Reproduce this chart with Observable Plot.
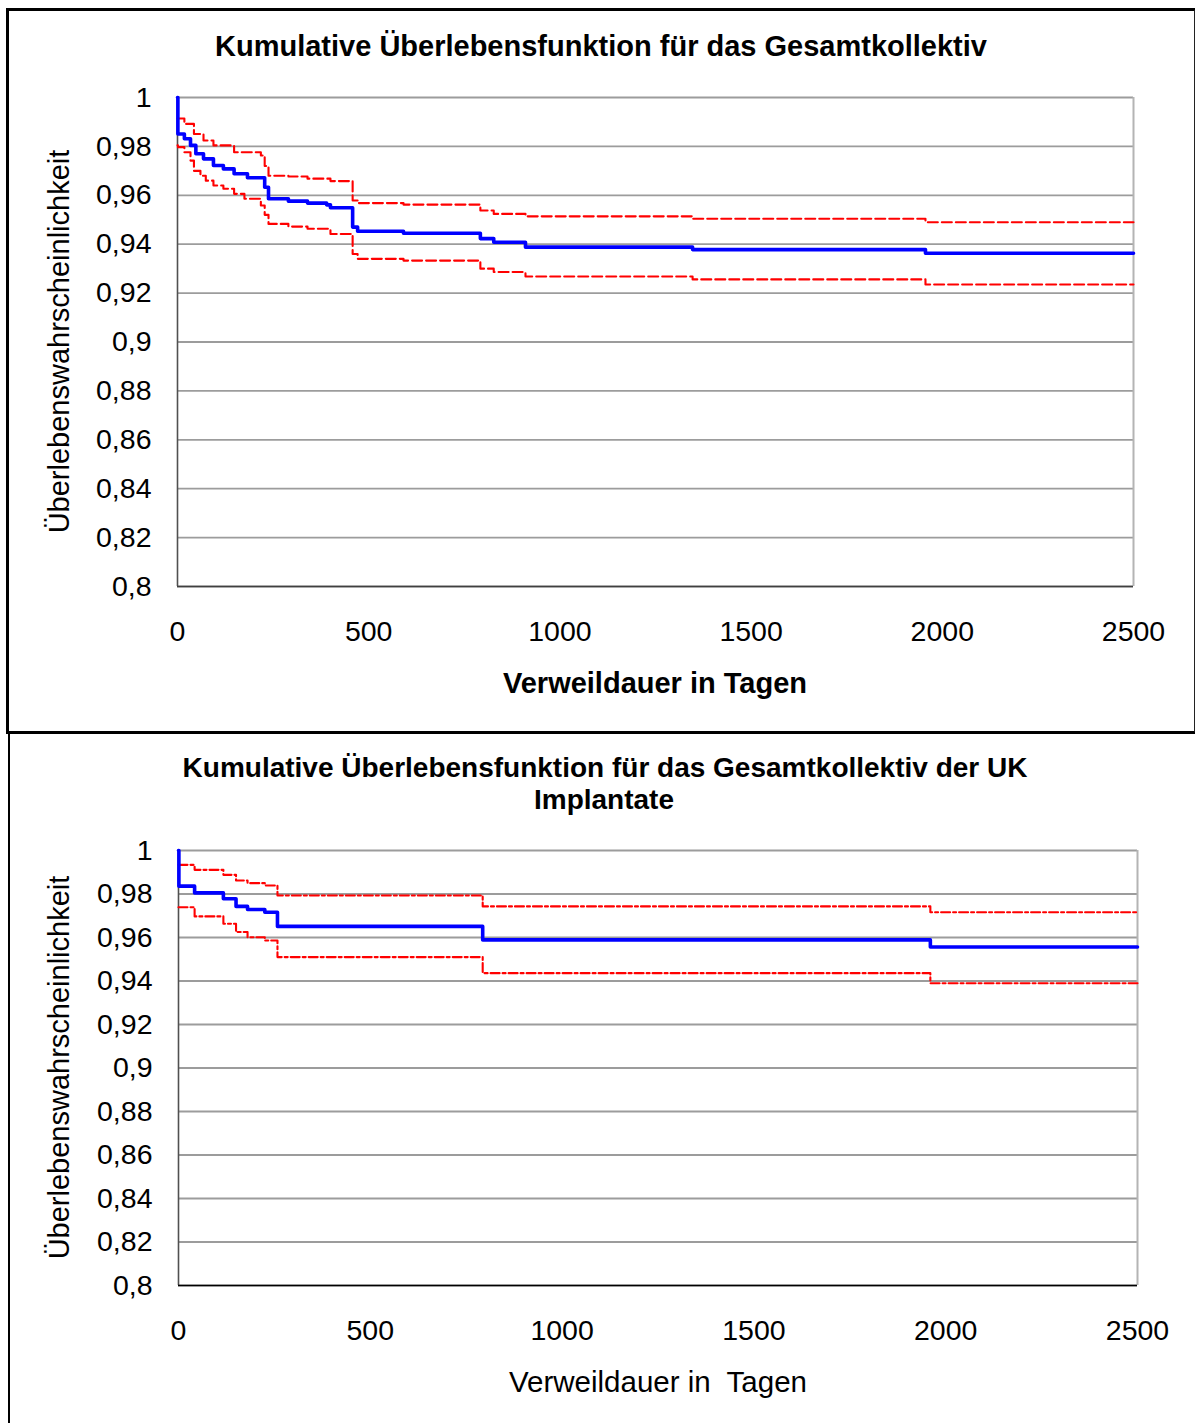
<!DOCTYPE html>
<html>
<head>
<meta charset="utf-8">
<script src="https://cdn.jsdelivr.net/npm/d3@7"></script>
<script src="https://cdn.jsdelivr.net/npm/@observablehq/plot@0.6"></script>
<style>
  html, body { margin: 0; padding: 0; background: #fff; }
  body { width: 1195px; height: 1423px; position: relative; overflow: hidden; font-family: "Liberation Sans", Arial, Helvetica, sans-serif; color: #000; }
  .abs { position: absolute; }
  .t { position: absolute; white-space: pre; text-align: center; }
</style>
</head>
<body>
<script>
// ---------- data ----------
const xTicks = [0, 500, 1000, 1500, 2000, 2500];
const yTicks = [0.8, 0.82, 0.84, 0.86, 0.88, 0.9, 0.92, 0.94, 0.96, 0.98, 1];

// Gesamtkollektiv
const topDays  = [0, 1, 18, 34, 43, 48, 60, 68, 74, 94, 120, 148, 175, 183, 218, 228, 238, 290, 340, 390, 400, 458, 471, 591, 792, 827, 910, 1347, 1956, 2500];
const topSurv  = [1.000, 0.9851, 0.9831, 0.9804, 0.9804, 0.9770, 0.9770, 0.9749, 0.9749, 0.9722, 0.9708, 0.9688, 0.9688, 0.9672, 0.9672, 0.9633, 0.9586, 0.9576, 0.9568, 0.9561, 0.9549, 0.9470, 0.9453, 0.9445, 0.9423, 0.9408, 0.9388, 0.9378, 0.9363, 0.9363];
const topUpper = [0.9914, 0.9914, 0.9892, 0.9892, 0.9851, 0.9851, 0.9851, 0.9824, 0.9824, 0.9804, 0.9804, 0.9776, 0.9776, 0.9776, 0.9763, 0.9720, 0.9680, 0.9677, 0.9668, 0.9668, 0.9658, 0.9579, 0.9568, 0.9562, 0.9538, 0.9524, 0.9514, 0.9504, 0.9490, 0.9490];
const topLower = [0.9805, 0.9797, 0.9776, 0.9742, 0.9700, 0.9700, 0.9680, 0.9680, 0.9660, 0.9640, 0.9627, 0.9606, 0.9586, 0.9586, 0.9558, 0.9520, 0.9483, 0.9472, 0.9463, 0.9463, 0.9442, 0.9360, 0.9340, 0.9333, 0.9300, 0.9286, 0.9268, 0.9256, 0.9235, 0.9235];

// UK Implantate
const ukDays  = [0, 1, 42, 117, 150, 180, 225, 258, 793, 1960, 2500];
const ukSurv  = [1.000, 0.9836, 0.9805, 0.9778, 0.9743, 0.9729, 0.9716, 0.9651, 0.9589, 0.9556, 0.9556];
const ukUpper = [0.9934, 0.9934, 0.9911, 0.9888, 0.9862, 0.9850, 0.9839, 0.9793, 0.9743, 0.9716, 0.9716];
const ukLower = [0.9739, 0.9739, 0.9697, 0.9663, 0.9625, 0.9601, 0.9586, 0.9510, 0.9436, 0.9390, 0.9390];

const topTitle = "Kumulative Überlebensfunktion für das Gesamtkollektiv";
const ukTitle1 = "Kumulative Überlebensfunktion für das Gesamtkollektiv der UK";
const ukTitle2 = "Implantate";
const yLabel = "Überlebenswahrscheinlichkeit";
const xLabelTop = "Verweildauer in Tagen";
const xLabelUk = "Verweildauer in  Tagen";

// ---------- drawing ----------
const FONT = '"Liberation Sans", Arial, Helvetica, sans-serif';
const fmt = d => String(+d.toFixed(2)).replace(".", ",");
const rows = (days, s, u, l) => days.map((d, i) => ({day: d, surv: s[i], upper: u[i], lower: l[i]}));

function chart(data, o) {
  return Plot.plot({
    width: 1195, height: o.height,
    marginTop: o.mt, marginBottom: o.mb, marginLeft: o.ml, marginRight: o.mr,
    x: {domain: [0, 2500]},
    y: {domain: [0.8, 1]},
    style: {fontFamily: FONT, fontSize: "28.5px", color: "#000", background: "transparent", overflow: "visible"},
    marks: [
      Plot.gridY(yTicks, {stroke: "#9c9c9c", strokeOpacity: 1, strokeWidth: 1.8}),
      Plot.ruleX([2500], {stroke: "#b4b4b4", strokeWidth: 2}),
      Plot.ruleX([0], {stroke: "#505050", strokeWidth: 1.6}),
      Plot.ruleY([0.8], {stroke: o.bottomColor, strokeWidth: 1.6}),
      Plot.line(data, {x: "day", y: "upper", curve: "step-after", stroke: "#ff0000", strokeWidth: 2.1, strokeDasharray: o.dash}),
      Plot.line(data, {x: "day", y: "lower", curve: "step-after", stroke: "#ff0000", strokeWidth: 2.1, strokeDasharray: o.dash}),
      Plot.line(data, {x: "day", y: "surv", curve: "step-after", stroke: "#0000ff", strokeWidth: 3.6}),
      Plot.axisY(yTicks, {tickSize: 0, tickPadding: o.ypad, tickFormat: fmt, fontSize: 28.5, label: null}),
      Plot.axisX(xTicks, {tickSize: 0, tickPadding: 34, tickFormat: d => String(d), fontSize: 28.5, label: null})
    ]
  });
}

function place(el, left, top) {
  const w = document.createElement("div");
  w.className = "abs";
  w.style.left = left + "px";
  w.style.top = top + "px";
  w.appendChild(el);
  document.body.appendChild(w);
}

function text(str, cx, baseline, size, bold) {
  const d = document.createElement("div");
  d.className = "t";
  d.textContent = str;
  d.style.fontSize = size + "px";
  d.style.lineHeight = size + "px";
  d.style.fontWeight = bold ? "bold" : "normal";
  d.style.width = "1000px";
  d.style.left = (cx - 500) + "px";
  d.style.top = (baseline - 0.8465 * size) + "px";
  document.body.appendChild(d);
}

function vtext(str, cx, cy, size) {
  const d = document.createElement("div");
  d.className = "t";
  d.textContent = str;
  d.style.fontSize = size + "px";
  d.style.lineHeight = size + "px";
  d.style.width = "600px";
  d.style.height = size + "px";
  d.style.left = (cx - 300) + "px";
  d.style.top = (cy - size / 2) + "px";
  d.style.transform = "rotate(-90deg)";
  document.body.appendChild(d);
}

function box(left, top, w, h, css) {
  const d = document.createElement("div");
  d.className = "abs";
  d.style.left = left + "px"; d.style.top = top + "px";
  d.style.width = w + "px"; d.style.height = h + "px";
  d.style.boxSizing = "border-box";
  Object.assign(d.style, css);
  document.body.appendChild(d);
}

// top chart: plot area x 177..1133, y 97..586
place(chart(rows(topDays, topSurv, topUpper, topLower),
  {height: 732, mt: 97, mb: 146, ml: 177, mr: 62, ypad: 26, dash: "10,4", bottomColor: "#404040"}), 0, 0);
// bottom chart: plot area x 178..1137, y 850..1285
place(chart(rows(ukDays, ukSurv, ukUpper, ukLower),
  {height: 692, mt: 119, mb: 138, ml: 178, mr: 58, ypad: 26, dash: "9,3,3,3", bottomColor: "#000"}), 0, 731);

// titles and axis titles
text(topTitle, 601, 57, 29, true);
text(xLabelTop, 655, 694, 29, true);
vtext(yLabel, 59, 341, 29);

text(ukTitle1, 605, 778, 28, true);
text(ukTitle2, 604, 810, 28, true);
text(xLabelUk, 658, 1392, 29.5, false);
vtext(yLabel, 59, 1067, 29);

// outer frames
box(6, 8, 1189.5, 725.5, {borderTop: "3px solid #000", borderLeft: "3px solid #000", borderBottom: "3px solid #000", borderRight: "2px solid #222"});
box(7.5, 732, 2.2, 691, {background: "#000"});
</script>
</body>
</html>
